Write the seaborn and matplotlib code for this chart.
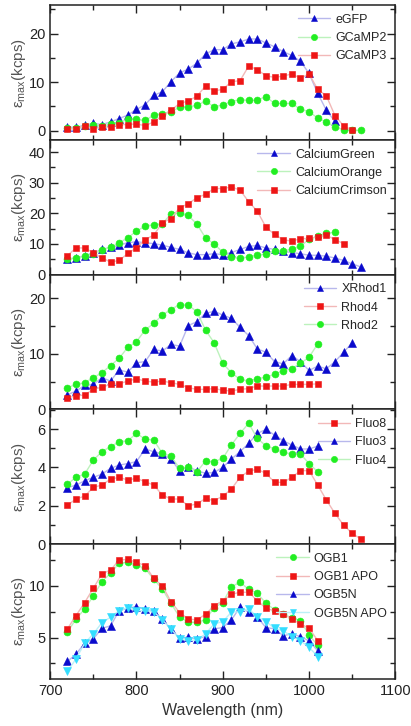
import numpy as np
import pandas as pd
import matplotlib
matplotlib.use('Agg')
import matplotlib.pyplot as plt
from matplotlib.ticker import MultipleLocator
import seaborn as sns

# ---------------- data ----------------
def wl(start, stop):
    return np.arange(start, stop + 1, 10)

# panel 1
egfp = [0.7, 0.7, 1.1, 1.5, 1.25, 1.8, 2.5, 3.2, 4.4, 5.3, 7.3, 8.0, 10.1, 11.9, 12.7, 13.9,
        15.8, 16.7, 16.7, 17.9, 18.3, 18.9, 18.9, 18.1, 17.3, 16.3, 15.5, 14.3, 11.8, 7.7, 4.2, 1.9]
gcamp2 = [0.5, 0.5, 0.9, 1.2, 1.0, 1.3, 1.6, 2.4, 2.3, 2.1, 3.2, 3.5, 3.8, 4.9, 4.9, 5.2, 6.1, 4.9,
          5.3, 6.0, 6.4, 6.25, 6.3, 7.0, 5.6, 5.6, 5.6, 4.4, 3.9, 2.6, 1.8, 0.8, 0.15, 0.1, 0.05]
gcamp3 = [0.35, 0.35, 1.0, 0.4, 0.7, 0.7, 1.25, 1.25, 1.4, 1.0, 1.8, 3.1, 4.2, 5.6, 6.1, 7.1, 9.2,
          8.2, 8.5, 10.1, 10.3, 13.3, 12.6, 11.3, 11.0, 11.25, 11.7, 10.8, 11.7, 8.5, 7.2, 3.1, 1.0, 0.1]

# panel 2
ca_green = [5.1, 5.4, 6.2, 7.1, 8.2, 8.9, 9.6, 10.4, 10.7, 10.4, 10.1, 9.6, 8.9, 8.2, 7.1, 6.5, 6.5,
            6.8, 6.5, 7.2, 8.2, 9.2, 9.5, 8.7, 8.2, 7.6, 7.2, 6.8, 6.3, 6.3, 6.0, 5.4, 4.6, 3.5, 2.5]
ca_orange = [5.1, 5.4, 6.0, 6.8, 8.0, 8.9, 10.4, 12.0, 14.2, 15.8, 16.3, 16.6, 19.8, 20.0, 19.3, 16.5,
             12.0, 10.0, 7.3, 5.7, 5.3, 5.8, 6.3, 6.7, 7.6, 7.8, 8.2, 9.3, 11.5, 12.5, 13.5, 13.8]
ca_crimson = [6.2, 8.7, 8.7, 7.1, 5.4, 4.1, 4.6, 6.9, 8.7, 11.4, 12.9, 16.9, 18.3, 21.8, 23.1, 25.1,
              26.2, 28.1, 28.1, 28.6, 27.6, 23.8, 20.7, 15.5, 13.1, 11.4, 10.9, 11.7, 11.8, 12.3,
              12.9, 11.4, 10.1]

# panel 3
xrhod1 = [2.6, 3.3, 4.3, 4.5, 5.7, 5.1, 7.1, 6.7, 8.4, 8.6, 10.8, 10.5, 11.7, 11.4, 15.1, 15.8, 17.3,
          17.7, 17.0, 16.4, 14.8, 13.3, 10.9, 10.3, 8.6, 8.2, 9.7, 8.6, 7.0, 7.8, 7.3, 8.6, 10.3, 12.0]
rhod4 = [2.1, 2.4, 2.6, 3.6, 4.0, 4.5, 4.6, 5.1, 5.5, 5.1, 4.9, 5.1, 4.8, 4.5, 3.9, 3.6, 3.6, 3.75,
         3.45, 3.3, 3.6, 3.75, 4.2, 4.2, 4.2, 4.2, 4.5, 4.5, 4.5, 4.6]
rhod2 = [3.9, 4.5, 4.8, 5.7, 6.6, 7.9, 9.2, 11.2, 12.2, 14.3, 15.5, 17.0, 18.0, 18.9, 18.8, 17.6, 14.3,
         12.0, 8.3, 6.6, 5.4, 5.1, 5.5, 5.8, 6.3, 7.0, 7.3, 8.3, 9.4, 11.8]

# panel 4
fluo8 = [2.03, 2.35, 2.5, 2.96, 3.08, 3.39, 3.48, 3.34, 3.43, 3.25, 3.08, 2.56, 2.35, 2.35, 2.0, 2.09,
         2.38, 2.26, 2.5, 2.87, 3.48, 3.81, 3.9, 3.69, 3.22, 3.22, 3.48, 3.83, 3.83, 3.08, 2.3, 1.6,
         0.99, 0.56, 0.26]
fluo3 = [2.94, 3.08, 3.3, 3.48, 3.65, 3.95, 4.12, 4.2, 4.3, 4.96, 4.82, 4.7, 4.43, 3.83, 4.03, 3.83,
         3.69, 3.74, 4.0, 4.43, 4.82, 5.25, 5.77, 5.98, 5.69, 5.39, 5.17, 4.96, 4.96, 5.11]
fluo4 = [3.13, 3.48, 3.65, 4.38, 4.82, 5.08, 5.34, 5.39, 5.77, 5.48, 5.43, 4.73, 4.59, 3.95, 4.0, 3.77,
         4.33, 4.3, 4.47, 5.17, 5.77, 6.3, 5.51, 5.13, 4.96, 4.78, 4.7, 4.7, 4.2, 3.77]

# panel 5
ogb1 = [5.52, 6.8, 7.77, 9.03, 10.42, 11.23, 12.2, 12.3, 12.0, 11.7, 10.65, 9.7, 8.3, 7.0, 6.48, 6.48,
        6.71, 7.9, 8.39, 9.94, 10.35, 9.68, 9.29, 8.32, 7.7, 7.29, 6.9, 6.65, 5.26, 4.23]
ogb1_apo = [5.84, 7.13, 8.39, 9.77, 11.16, 11.55, 12.5, 12.58, 12.29, 11.97, 10.74, 10.0, 8.48, 7.42,
            6.8, 6.71, 7.26, 8.06, 8.58, 9.19, 9.39, 9.39, 8.58, 7.84, 7.58, 7.26, 6.8, 6.32, 5.9, 4.71]
ogb5n = [2.68, 3.39, 4.45, 4.87, 5.9, 6.13, 7.61, 7.84, 8.0, 7.74, 7.58, 6.77, 5.81, 4.94, 5.03, 4.87,
         5.1, 5.84, 5.97, 6.71, 7.94, 7.45, 6.97, 5.97, 5.84, 5.19, 5.35, 5.1, 4.68, 3.71]
ogb5n_apo = [1.71, 2.94, 4.45, 5.35, 6.45, 6.97, 7.61, 7.9, 7.61, 7.61, 7.52, 6.71, 5.84, 4.87, 4.71,
             4.77, 5.35, 6.32, 6.55, 7.45, 7.52, 7.74, 7.03, 6.55, 5.9, 5.65, 5.1, 4.68, 4.06, 3.16]

# ---------------- style ----------------
sns.set_style('ticks')
plt.rcParams['font.family'] = ['Liberation Sans', 'DejaVu Sans']
plt.rcParams['mathtext.fontset'] = 'custom'
plt.rcParams['mathtext.rm'] = 'Liberation Sans'
plt.rcParams['mathtext.it'] = 'Liberation Sans:italic'

BLUE, GREEN, RED, CYAN = '#0a0acc', '#22ee22', '#ee1515', '#33ddff'
LIGHT = {BLUE: '#b8b8ec', GREEN: '#bcf2bc', RED: '#f2b8b8', CYAN: '#bcf0f8'}
MSIZE = {'^': 5.2, 'o': 5.0, 's': 4.6, 'v': 5.2}

panels = [
    dict(series=[('eGFP', wl(720, 1030), egfp, BLUE, '^'),
                 ('GCaMP2', wl(720, 1060), gcamp2, GREEN, 'o'),
                 ('GCaMP3', wl(720, 1050), gcamp3, RED, 's')],
         ylim=(-1.9, 25.9), major=10, minor=5),
    dict(series=[('CalciumGreen', wl(720, 1060), ca_green, BLUE, '^'),
                 ('CalciumOrange', wl(720, 1030), ca_orange, GREEN, 'o'),
                 ('CalciumCrimson', wl(720, 1040), ca_crimson, RED, 's')],
         ylim=(0, 44), major=10, minor=5),
    dict(series=[('XRhod1', wl(720, 1050), xrhod1, BLUE, '^'),
                 ('Rhod4', wl(720, 1010), rhod4, RED, 's'),
                 ('Rhod2', wl(720, 1010), rhod2, GREEN, 'o')],
         ylim=(0, 24.3), major=10, minor=5),
    dict(series=[('Fluo8', wl(720, 1060), fluo8, RED, 's'),
                 ('Fluo3', wl(720, 1010), fluo3, BLUE, '^'),
                 ('Fluo4', wl(720, 1010), fluo4, GREEN, 'o')],
         ylim=(0, 7.03), major=2, minor=1),
    dict(series=[('OGB1', wl(720, 1010), ogb1, GREEN, 'o'),
                 ('OGB1 APO', wl(720, 1010), ogb1_apo, RED, 's'),
                 ('OGB5N', wl(720, 1010), ogb5n, BLUE, '^'),
                 ('OGB5N APO', wl(720, 1010), ogb5n_apo, CYAN, 'v')],
         ylim=(1.0, 14.06), major=5, minor=2.5),
]

fig, axes = plt.subplots(5, 1, figsize=(4.11, 7.26), dpi=100, sharex=True)
fig.subplots_adjust(left=0.122, right=0.962, top=0.993, bottom=0.065, hspace=0)

for ax, p in zip(axes, panels):
    for name, x, y, col, mk in p['series']:
        df = pd.DataFrame({'wl': x, 'val': y})
        sns.lineplot(data=df, x='wl', y='val', ax=ax, color=LIGHT[col], lw=1.0,
                     marker=mk, markersize=MSIZE[mk], markerfacecolor=col,
                     markeredgecolor=col, markeredgewidth=0.4, label=name)
    ax.set_xlim(700, 1100)
    ax.set_ylim(*p['ylim'])
    ax.yaxis.set_major_locator(MultipleLocator(p['major']))
    ax.yaxis.set_minor_locator(MultipleLocator(p['minor']))
    ax.xaxis.set_major_locator(MultipleLocator(100))
    ax.xaxis.set_minor_locator(MultipleLocator(50))
    ax.tick_params(which='both', direction='in', top=True, right=True, width=1,
                   colors='#222222', labelsize=10.5)
    ax.tick_params(which='major', length=6)
    ax.tick_params(which='minor', length=3.5)
    for s in ax.spines.values():
        s.set_linewidth(1.1)
        s.set_color('#222222')
    ax.set_xlabel('')
    ax.set_ylabel(r'$\mathregular{\epsilon_{max}}$(kcps)', fontsize=11, color='#555555')
    ax.yaxis.set_label_coords(-0.065, 0.5)
    ax.legend(loc='upper right', frameon=False, fontsize=9, handlelength=2.6,
              labelspacing=0.5, handletextpad=0.4, borderaxespad=0.3,
              bbox_to_anchor=(1.0, 1.0), markerscale=0.9)

axes[-1].set_xlabel('Wavelength (nm)', fontsize=11.5, color='#333333')
axes[-1].set_yticks([5, 10])

fig.savefig('out.png', dpi=100)
